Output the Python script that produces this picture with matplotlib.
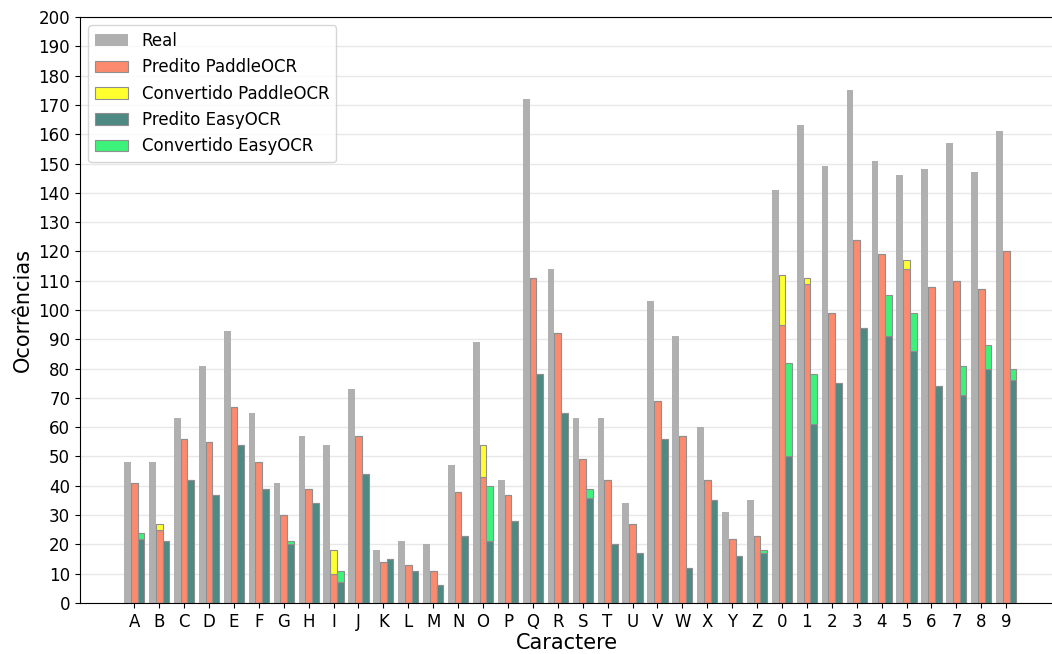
import numpy as np
import matplotlib
matplotlib.use("Agg")
import matplotlib.pyplot as plt

# Dados
caracteres = list("ABCDEFGHIJKLMNOPQRSTUVWXYZ0123456789")
real = [48, 48, 63, 81, 93, 65, 41, 57, 54, 73, 18, 21, 20, 47, 89, 42, 172, 114,
        63, 63, 34, 103, 91, 60, 31, 35,
        141, 163, 149, 175, 151, 146, 148, 157, 147, 161]
predito_paddle = [41, 25, 56, 55, 67, 48, 30, 39, 10, 57, 14, 13, 11, 38, 43, 37, 111, 92,
                  49, 42, 27, 69, 57, 42, 22, 23,
                  95, 109, 99, 124, 119, 114, 108, 110, 107, 120]
convertido_paddle = [0, 2, 0, 0, 0, 0, 0, 0, 8, 0, 0, 0, 0, 0, 11, 0, 0, 0,
                     0, 0, 0, 0, 0, 0, 0, 0,
                     17, 2, 0, 0, 0, 3, 0, 0, 0, 0]
predito_easy = [22, 21, 42, 37, 54, 39, 20, 34, 7, 44, 15, 11, 6, 23, 21, 28, 78, 65,
                36, 20, 17, 56, 12, 35, 16, 17,
                50, 61, 75, 94, 91, 86, 74, 71, 80, 76]
convertido_easy = [2, 0, 0, 0, 0, 0, 1, 0, 4, 0, 0, 0, 0, 0, 19, 0, 0, 0,
                   3, 0, 0, 0, 0, 0, 0, 1,
                   32, 17, 0, 0, 14, 13, 0, 10, 8, 4]

x = np.arange(len(caracteres))
w = 0.27

fig = plt.figure(figsize=(10.52, 6.54), dpi=100)
ax = fig.add_axes([0.076, 0.078, 0.925, 0.896])

ax.bar(x - w, real, w, color='#b0b0b0', label='Real', zorder=2)
ax.bar(x, predito_paddle, w, color='#fb8a6e', edgecolor='#8f8f8f', linewidth=0.8,
       label='Predito PaddleOCR', zorder=2)
ax.bar(x, convertido_paddle, w, bottom=predito_paddle, color='#ffff30', edgecolor='#8f8f8f',
       linewidth=0.8, label='Convertido PaddleOCR', zorder=2)
ax.bar(x + w, predito_easy, w, color='#4e8a83', edgecolor='#8f8f8f', linewidth=0.8,
       label='Predito EasyOCR', zorder=2)
ax.bar(x + w, convertido_easy, w, bottom=predito_easy, color='#3df27a', edgecolor='#8f8f8f',
       linewidth=0.8, label='Convertido EasyOCR', zorder=2)

ax.set_xticks(x)
ax.set_xticklabels(caracteres, fontsize=12)
ax.set_yticks(np.arange(0, 201, 10))
ax.tick_params(axis='y', labelsize=12)
ax.set_ylim(0, 200)
ax.set_xlim(-2.18, 36.88)
ax.set_xlabel('Caractere', fontsize=15, labelpad=2)
ax.set_ylabel('Ocorrências', fontsize=15)
ax.yaxis.grid(True, color='#e8e8e8', linewidth=1, zorder=0)
ax.set_axisbelow(True)
ax.legend(loc='upper left', fontsize=12)

plt.savefig('out.png', dpi=100)
